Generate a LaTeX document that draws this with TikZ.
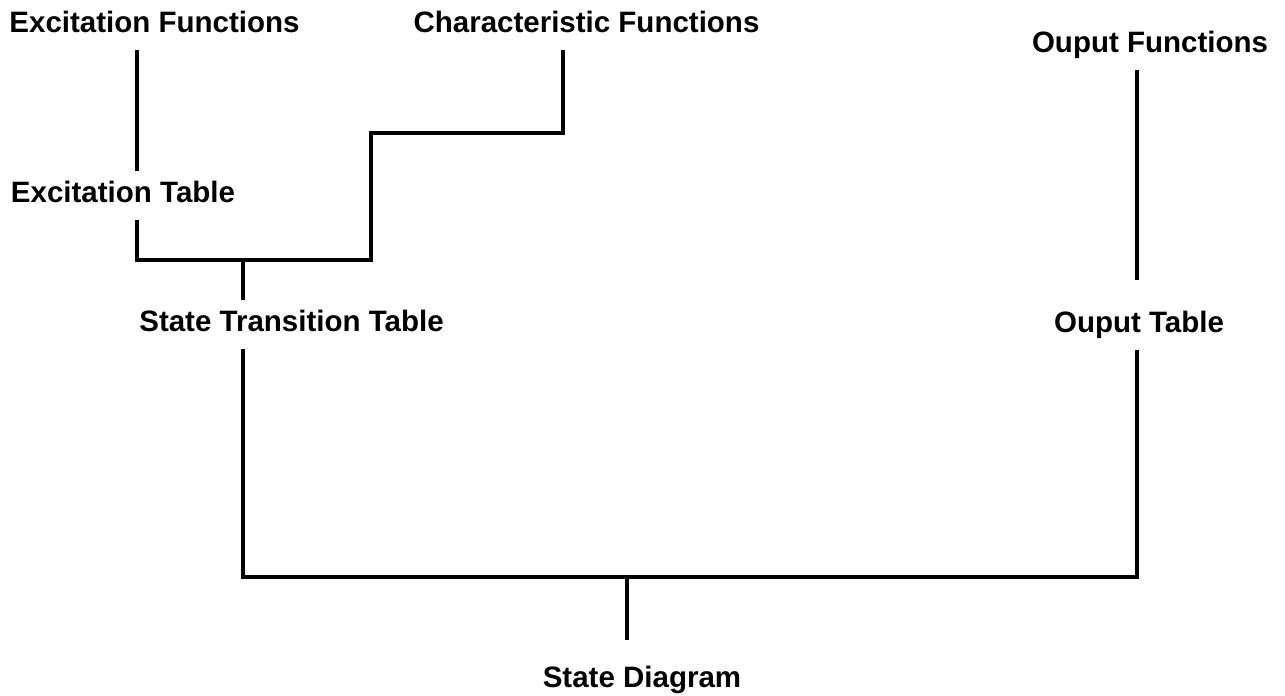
\documentclass[tikz,border=0pt]{standalone}
\usepackage{fontspec}
\setmainfont{Liberation Sans}

\begin{document}
\begin{tikzpicture}[x=1pt, y=1pt, line width=3.5pt,
                    label node/.style={anchor=base,font=\bfseries\fontsize{29.5}{34}\selectfont,
                                       text height=21pt,text depth=6pt,inner xsep=0pt,inner ysep=9pt}]
  \useasboundingbox (0,0) rectangle (1285,696);

  \node[label node] (exfun) at (154.5,663) {Excitation Functions};
  \node[label node] (charfun) at (586.5,663) {Characteristic Functions};
  \node[label node] (outfun) at (1150,643) {Ouput Functions};
  \node[label node] (extab) at (123,493) {Excitation Table};
  \node[label node] (sttab) at (291.5,364) {State Transition Table};
  \node[label node] (outtab) at (1139,363) {Ouput Table};
  \node[label node] (stdiag) at (642,8) {State Diagram};

  \coordinate (ja) at (243,436);
  \coordinate (bend) at (371,563);
  \coordinate (jb) at (627,119);

  \draw ([xshift=-17.5pt]exfun.south) -- ([xshift=14pt]extab.north);
  \draw ([xshift=14pt]extab.south) |- (ja) -| (bend) -| ([xshift=-23.5pt]charfun.south);
  \draw (ja) -- ([xshift=-48.5pt]sttab.north);
  \draw ([xshift=-48.5pt]sttab.south) |- (jb) -| ([xshift=-2pt]outtab.south);
  \draw[shorten >=21pt] ([xshift=-13pt]outfun.south) -- ([xshift=-2pt]outtab.north);
  \draw[shorten >=16pt] (jb) -- ([xshift=-15pt]stdiag.north);

\end{tikzpicture}
\end{document}
